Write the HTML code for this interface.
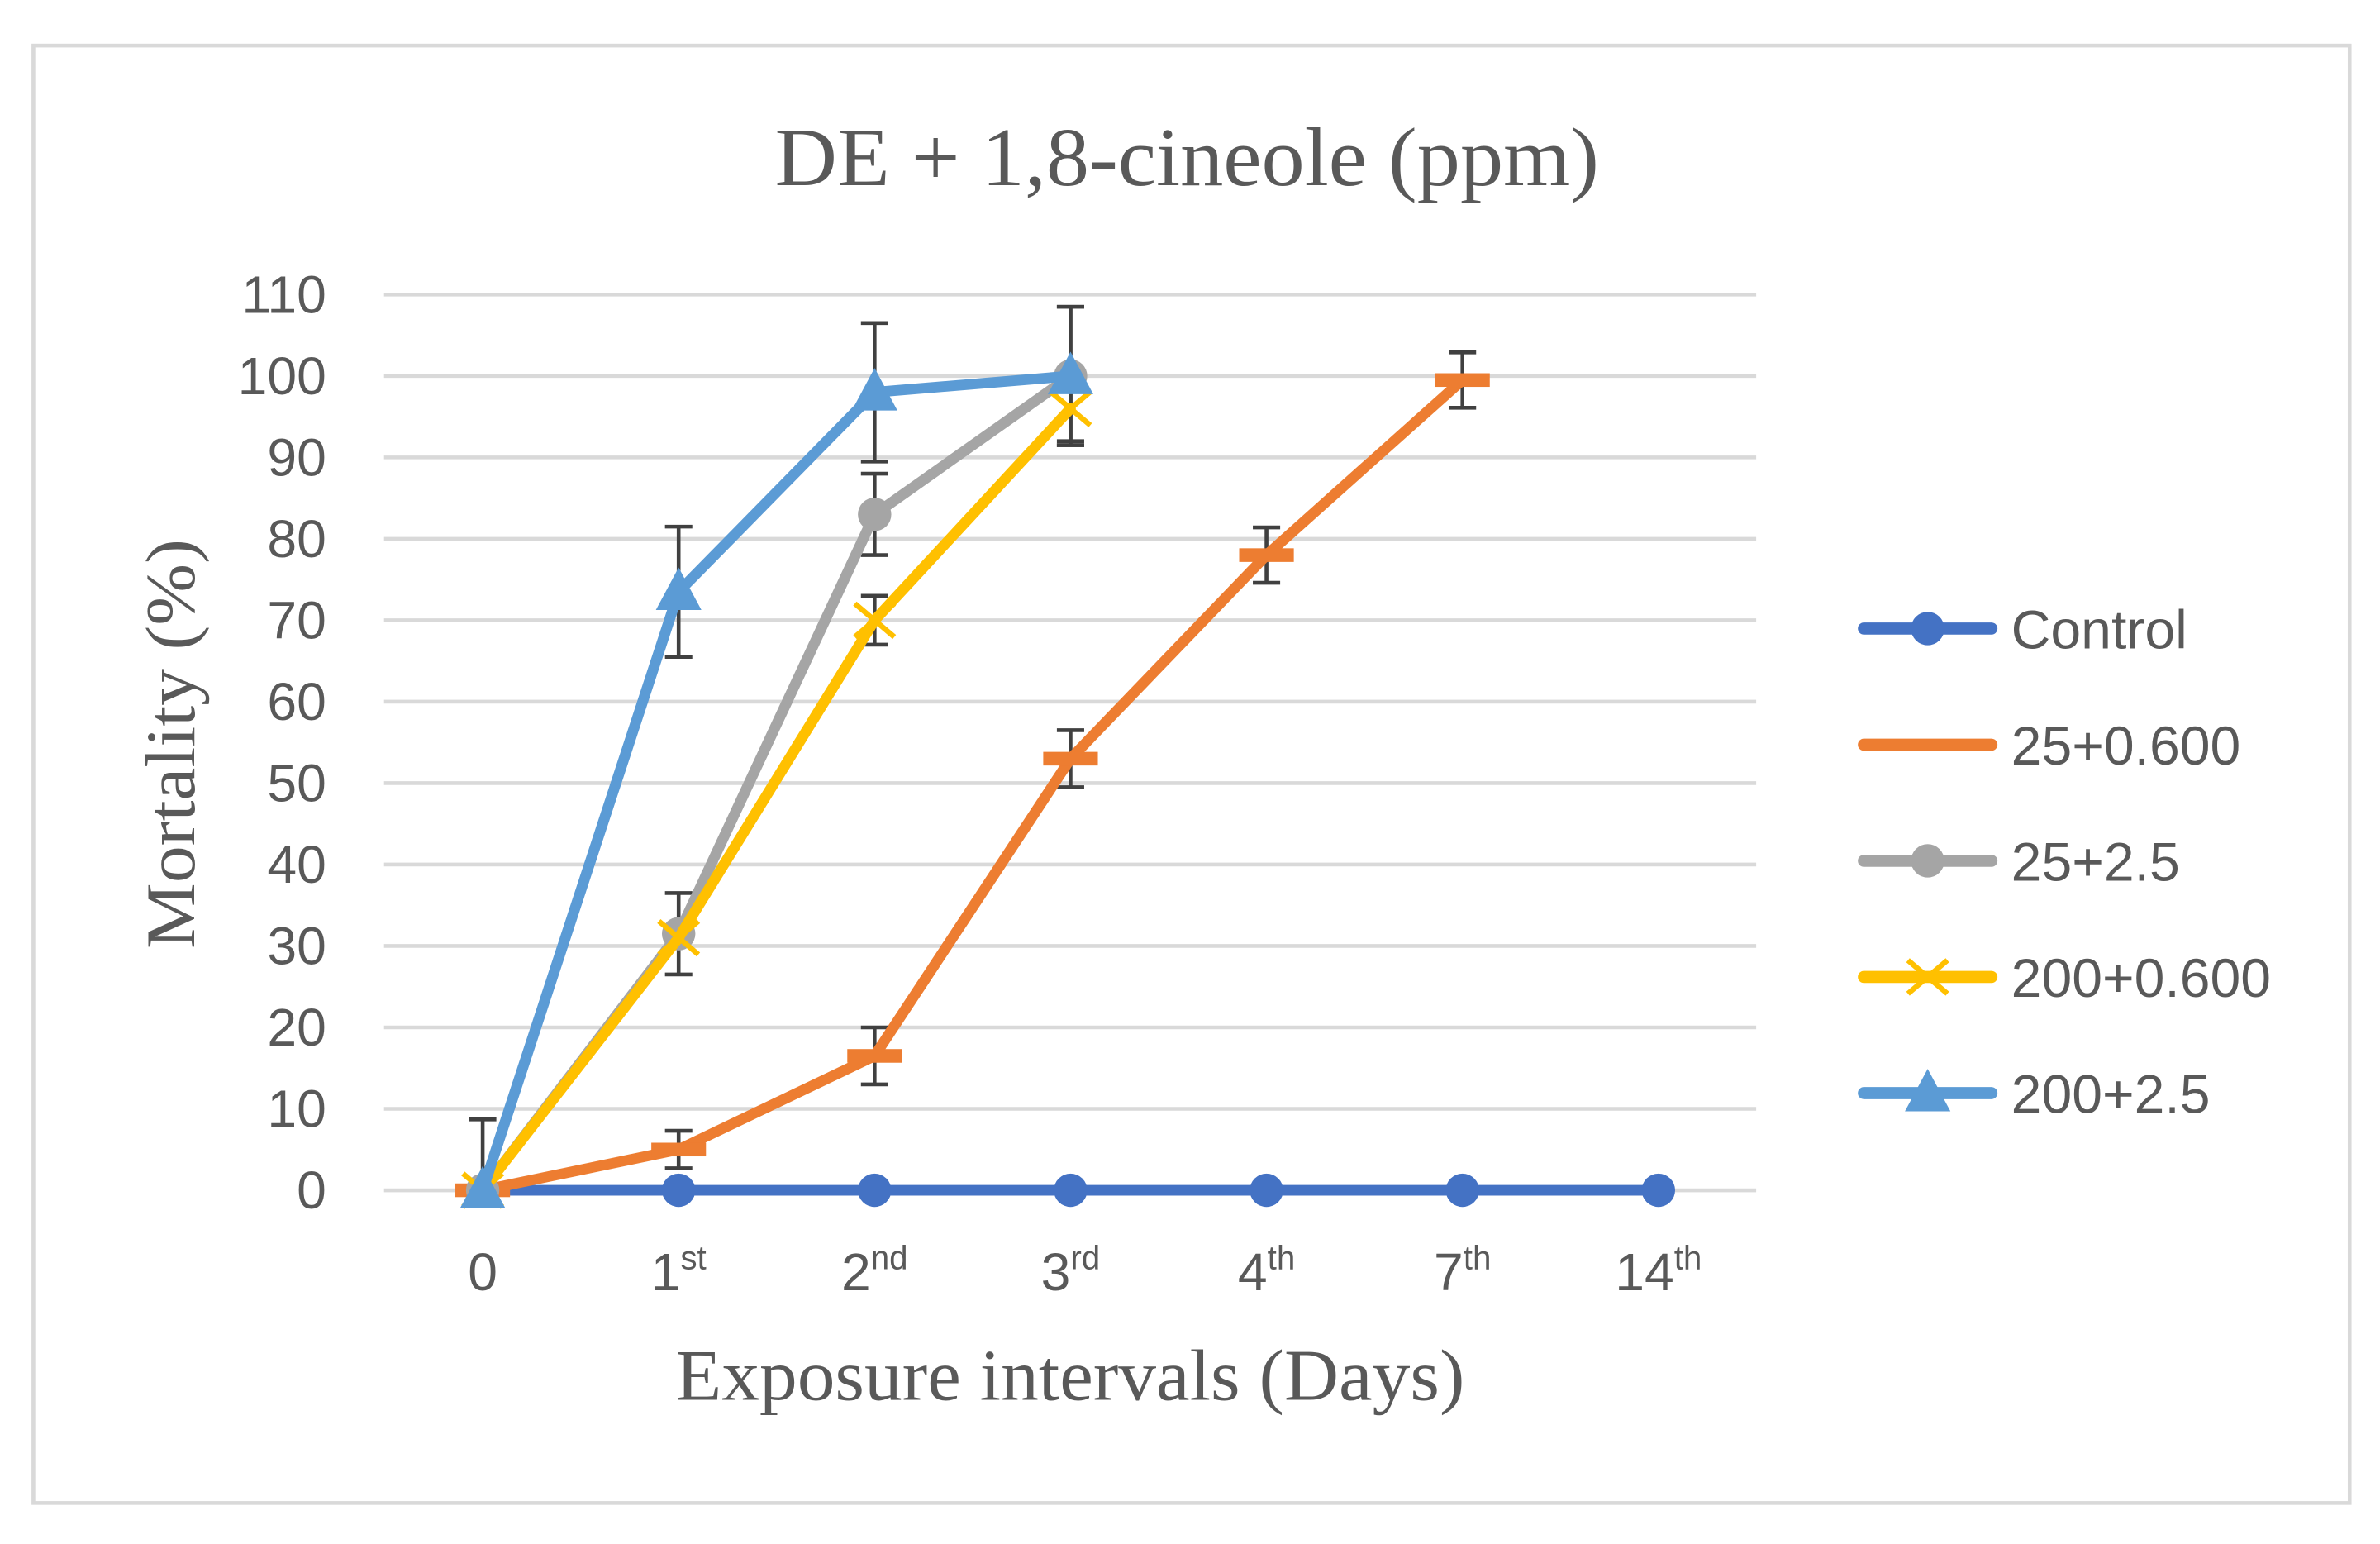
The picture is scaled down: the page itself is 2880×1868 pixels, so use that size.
<!DOCTYPE html>
<html><head><meta charset="utf-8"><style>
html,body{margin:0;padding:0;background:#fff;}
svg{display:block;}
</style></head><body>
<svg id="chart" width="2880" height="1868" viewBox="0 0 1568 1017" xmlns="http://www.w3.org/2000/svg">
<rect x="22" y="30" width="1526" height="960" fill="#fff" stroke="#d9d9d9" stroke-width="2.5"/>
<text x="782" y="122" text-anchor="middle" font-family="Liberation Serif, serif" font-size="55" textLength="543" lengthAdjust="spacingAndGlyphs" fill="#595959">DE + 1,8-cineole (ppm)</text>
<g id="grid"></g>
<g id="yticks"></g>
<g id="xticks"></g>
<g id="errors"></g>
<g id="series"></g>
<g id="legend"></g>
<text transform="translate(128,490) rotate(-90)" text-anchor="middle" font-family="Liberation Serif, serif" font-size="46" textLength="270" lengthAdjust="spacingAndGlyphs" fill="#595959">Mortality (%)</text>
<text x="705" y="922" text-anchor="middle" font-family="Liberation Serif, serif" font-size="48" textLength="520" lengthAdjust="spacingAndGlyphs" fill="#595959">Exposure intervals (Days)</text>
</svg>
<script>
const categories = ['0','1|st','2|nd','3|rd','4|th','7|th','14|th'];
const yTicks = [0,10,20,30,40,50,60,70,80,90,100,110];
const seriesNames = ['Control','25+0.600','25+2.5','200+0.600','200+2.5'];
const controlValues = [0,0,0,0,0,0,0];
const s25_06Values = [0,5,16.5,53,78,99.5];
const s25_25Values = [0,31.5,83,100];
const s200_06Values = [0,31,70,96];
const s200_25Values = [0,73.5,98,100];
const controlErr = [0,0,0,0,0,0,0];
const s25_06Err = [0,2.3,3.5,3.5,3.4,3.4];
const s25_25Err = [8.7,5,5,8.5];
const s200_06Err = [0,0,3,4];
const s200_25Err = [0,8,8.5,8.5];

const NS='http://www.w3.org/2000/svg';
const X0=318, DX=129.1, Y0=784, YTOP=194, VMAX=110;
function xs(i){return X0+i*DX;}
function ys(v){return Y0-(v/VMAX)*(Y0-YTOP);}
function mk(tag,parent,attrs){const e=document.createElementNS(NS,tag);for(const k in attrs)e.setAttribute(k,attrs[k]);parent.appendChild(e);return e;}

const grid=document.getElementById('grid'), yt=document.getElementById('yticks'), xt=document.getElementById('xticks');
yTicks.forEach(v=>{
  const l=mk('line',grid,{x1:253,x2:1157,y1:ys(v),y2:ys(v),stroke:'#d9d9d9','stroke-width':2.5});
  
  
  const t=mk('text',yt,{x:215,y:ys(v)+12,'text-anchor':'end','font-family':'Liberation Sans, sans-serif','font-size':35,fill:'#595959'});
  t.textContent=v;
  
  
});
categories.forEach((c,i)=>{
  const p=c.split('|');
  const t=mk('text',xt,{x:xs(i),y:850,'text-anchor':'middle','font-family':'Liberation Sans, sans-serif','font-size':35,fill:'#595959'});
  
  
  const a=mk('tspan',t,{});a.textContent=p[0];
  if(p[1]){const b=mk('tspan',t,{'font-size':22,dy:-14});b.textContent=p[1];}
});

const colors=['#4472c4','#ed7d31','#a5a5a5','#ffc000','#5b9bd5'];
const values=[controlValues,s25_06Values,s25_25Values,s200_06Values,s200_25Values];
const errs=[controlErr,s25_06Err,s25_25Err,s200_06Err,s200_25Err];
const markers=['circle','dash','circle','x','triangle'];
const eg=document.getElementById('errors'), sg=document.getElementById('series');

function marker(g,type,x,y,c){
  const r=11;
  if(type==='circle') return mk('circle',g,{cx:x,cy:y,r:r,fill:c});
  if(type==='dash') return mk('rect',g,{x:x-18,y:y-4.5,width:36,height:9,fill:c});
  if(type==='x') return mk('path',g,{d:`M${x-13} ${y-11}L${x+13} ${y+11}M${x-13} ${y+11}L${x+13} ${y-11}`,stroke:c,'stroke-width':3.5,fill:'none'});
  return mk('path',g,{d:`M${x} ${y-16}L${x+15} ${y+12}L${x-15} ${y+12}Z`,fill:c});
}

values.forEach((vals,si)=>{
  const g=mk('g',sg,{});
  
  
  const pts=vals.map((v,i)=>xs(i)+','+ys(v)).join(' ');
  const pl=mk('polyline',g,{points:pts,fill:'none',stroke:colors[si],'stroke-width':7,'stroke-linejoin':'round','stroke-linecap':'round'});
  
  
  vals.forEach((v,i)=>{
    const m=marker(g,markers[si],xs(i),ys(v),colors[si]);
    
    
    const e=errs[si][i];
    if(e>0){
      const x=xs(i),y1=ys(v+e),lo=v-e;
      let d=`M${x} ${y1}L${x} ${ys(Math.max(lo,0))}M${x-9} ${y1}L${x+9} ${y1}`;
      if(lo>=0) d+=`M${x-9} ${ys(lo)}L${x+9} ${ys(lo)}`;
      const eb=mk('path',eg,{d:d,stroke:'#404040','stroke-width':2.5,fill:'none'});
      
      
    }
  });
});

const lg=document.getElementById('legend');
seriesNames.forEach((n,i)=>{
  const y=414+i*76.5;
  const g=mk('g',lg,{});
  
  
  mk('line',g,{x1:1228,x2:1312,y1:y,y2:y,stroke:colors[i],'stroke-width':8,'stroke-linecap':'round'});
  if(markers[i]!=='dash') marker(g,markers[i],1270,y,colors[i]);
  const t=mk('text',g,{x:1325,y:y+13,'font-family':'Liberation Sans, sans-serif','font-size':36,fill:'#595959'});
  t.textContent=n;
});
</script>
</body></html>
